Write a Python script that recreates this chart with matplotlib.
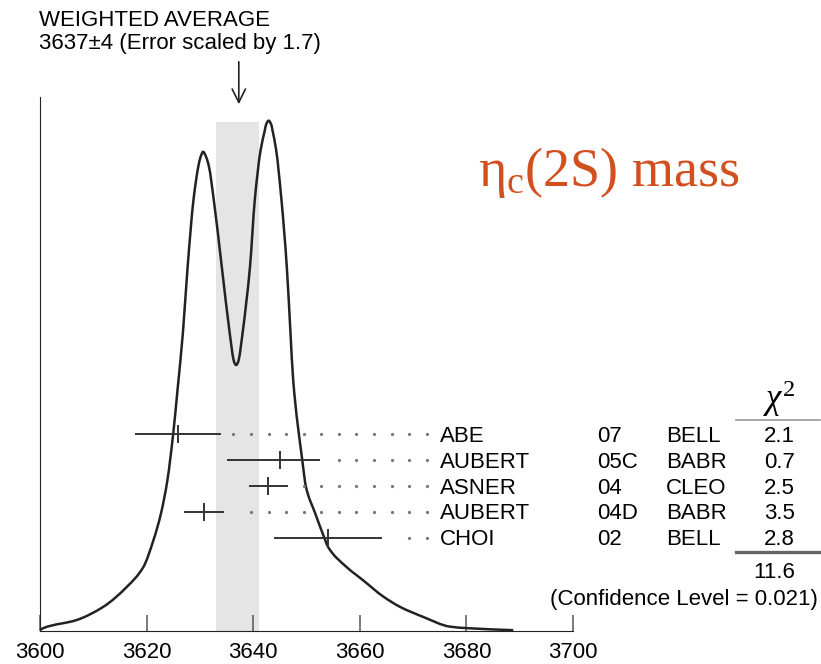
import numpy as np
import matplotlib
matplotlib.use('agg')
import matplotlib.pyplot as plt
from matplotlib.path import Path
from matplotlib.patches import PathPatch

plt.rcParams['font.family'] = ['Liberation Sans', 'DejaVu Sans']
plt.rcParams['mathtext.fontset'] = 'custom'
plt.rcParams['mathtext.rm'] = 'Liberation Serif'
plt.rcParams['mathtext.it'] = 'Liberation Serif:italic'

# Medidas de la masa del eta_c(2S) [MeV]
autores   = ['ABE', 'AUBERT', 'ASNER', 'AUBERT', 'CHOI']
anios     = ['07', '05C', '04', '04D', '02']
experim   = ['BELL', 'BABR', 'CLEO', 'BABR', 'BELL']
masa      = [3625.8, 3645.0, 3642.8, 3630.8, 3654.0]
err_menos = [7.7, 9.7, 3.4, 3.6, 9.9]
err_mas   = [8.0, 7.3, 3.6, 3.5, 10.0]
chi2      = [2.1, 0.7, 2.5, 3.5, 2.8]

media, err_media, escala = 3637, 4, 1.7
chi2_total, nivel_conf = 11.6, 0.021

# Ideograma (altura relativa al maximo)
ideo_m = [3600.0, 3600.6, 3606.9, 3611.9, 3616.3, 3619.4, 3621.3, 3622.7,
          3623.9, 3625.0, 3625.8, 3626.8, 3627.7, 3628.8, 3629.7, 3630.1,
          3630.6, 3631.2, 3631.7, 3632.6, 3634.1, 3635.6, 3636.3, 3636.5,
          3636.8, 3637.1, 3637.3, 3638.0, 3639.4, 3640.3, 3641.4, 3642.2,
          3642.4, 3642.9, 3643.4, 3643.6, 3644.3, 3645.3, 3646.3, 3647.0,
          3647.5, 3649.2, 3649.9, 3651.6, 3653.5, 3654.0, 3657.5, 3660.6,
          3664.4, 3667.5, 3671.9, 3676.9, 3680.1, 3688.8]
ideo_h = [0.001, 0.005, 0.021, 0.047, 0.086, 0.125, 0.178, 0.230,
          0.295, 0.387, 0.472, 0.583, 0.714, 0.845, 0.910, 0.928,
          0.939, 0.928, 0.910, 0.845, 0.714, 0.583, 0.532, 0.525,
          0.521, 0.525, 0.532, 0.583, 0.714, 0.845, 0.943, 0.982,
          0.992, 1.000, 0.992, 0.982, 0.943, 0.845, 0.714, 0.583,
          0.492, 0.335, 0.282, 0.231, 0.178, 0.165, 0.125, 0.099,
          0.067, 0.047, 0.027, 0.008, 0.005, 0.001]


def curva_suave(x, y):
    # trazo Bezier por los puntos (pendientes tipo PCHIP)
    x, y = np.asarray(x), np.asarray(y)
    h = np.diff(x)
    d = np.diff(y) / h
    m = np.zeros_like(y)
    for k in range(1, len(x) - 1):
        if d[k - 1] * d[k] > 0:
            w1, w2 = 2 * h[k] + h[k - 1], h[k] + 2 * h[k - 1]
            m[k] = (w1 + w2) / (w1 / d[k - 1] + w2 / d[k])
    m[0], m[-1] = d[0], d[-1]
    verts, codes = [(x[0], y[0])], [Path.MOVETO]
    for k in range(len(x) - 1):
        verts += [(x[k] + h[k] / 3, y[k] + m[k] * h[k] / 3),
                  (x[k + 1] - h[k] / 3, y[k + 1] - m[k + 1] * h[k] / 3),
                  (x[k + 1], y[k + 1])]
        codes += [Path.CURVE4] * 3
    return Path(verts, codes)


W, H = 821, 664
def px(x, y):
    # pixeles -> fraccion de figura
    return x / W, 1 - y / H

fig = plt.figure(figsize=(W / 100, H / 100), dpi=100)
x0, y0, alto = 40, 630.7, 534
ax = fig.add_axes([x0 / W, 1 - y0 / H, 533 / W, alto / H])

ax.axvspan(media - err_media, media + err_media, ymin=0, ymax=509 / alto,
           color='#e5e5e5', lw=0, zorder=0)
ax.add_patch(PathPatch(curva_suave(ideo_m, ideo_h), fill=False,
                       edgecolor='#222222', lw=1.8, zorder=3))

ax.set_xlim(3600, 3700)
ax.set_ylim(0, alto / 510)
for lado in ['top', 'right']:
    ax.spines[lado].set_visible(False)
ax.spines['left'].set_color('#222222')
ax.spines['bottom'].set_color('#222222')
ax.set_yticks([])
ax.set_xticks([3600, 3620, 3640, 3660, 3680, 3700])
ax.tick_params(axis='x', direction='in', length=11.3, width=1.1,
               color='#555555', labelsize=16, pad=8)

## Barras de error y lineas de puntos
trans = ax.get_xaxis_transform()
paso = 3.296
for i in range(len(masa)):
    yf = (y0 - 434.3 - 26 * i) / alto
    ax.plot([masa[i] - err_menos[i], masa[i] + err_mas[i]], [yf, yf],
            color='#333333', lw=1.4, transform=trans, zorder=4)
    ax.plot(masa[i], yf, marker='|', ms=12.5, mew=1.4, color='#333333',
            transform=trans, zorder=4)
    dots = 3636.3 + paso * np.arange(12)
    dots = dots[dots > masa[i] + err_mas[i] + 2.2]
    ax.plot(dots, np.full_like(dots, yf), ls='none', marker='o', ms=1.3,
            color='#777777', transform=trans, zorder=4)

    yt = 436.7 + 25.65 * i
    fig.text(*px(440, yt), autores[i], fontsize=16, va='center', ha='left')
    fig.text(*px(597, yt), anios[i], fontsize=16, va='center', ha='left')
    fig.text(*px(666, yt), experim[i], fontsize=16, va='center', ha='left')
    fig.text(*px(795, yt), '%.1f' % chi2[i], fontsize=16, va='center', ha='right')

## Tabla chi2
fig.text(*px(779, 399), r'$\chi^2$', fontsize=25, ha='center', va='center')
fig.add_artist(plt.Line2D([736 / W, 820 / W], [1 - 420 / H] * 2,
                          color='#999999', lw=1.2))
fig.add_artist(plt.Line2D([736 / W, 820 / W], [1 - 551.5 / H] * 2,
                          color='#666666', lw=2.4))
fig.text(*px(795, 572), '%.1f' % chi2_total, fontsize=16, va='center', ha='right')
fig.text(*px(818, 599), '(Confidence Level = %.3f)' % nivel_conf, fontsize=16,
         va='center', ha='right')

## Encabezado
fig.text(*px(39, 20), 'WEIGHTED AVERAGE', fontsize=16, va='center', ha='left')
fig.text(*px(39, 43), '%d±%d (Error scaled by %.1f)' % (media, err_media, escala),
         fontsize=16, va='center', ha='left')
ax.annotate('', xy=(media + 0.3, 1 - 10.3 / alto),
            xytext=(media + 0.3, 1 + 37.7 / alto),
            xycoords=trans, textcoords=trans, annotation_clip=False,
            arrowprops=dict(arrowstyle='->', color='#222222', lw=1.2,
                            mutation_scale=24))

fig.text(*px(478, 172), r'$\mathrm{η_c(2S)\ mass}$', fontsize=39,
         color='#d2501e', va='center', ha='left')

plt.savefig('out.png', dpi=100)
